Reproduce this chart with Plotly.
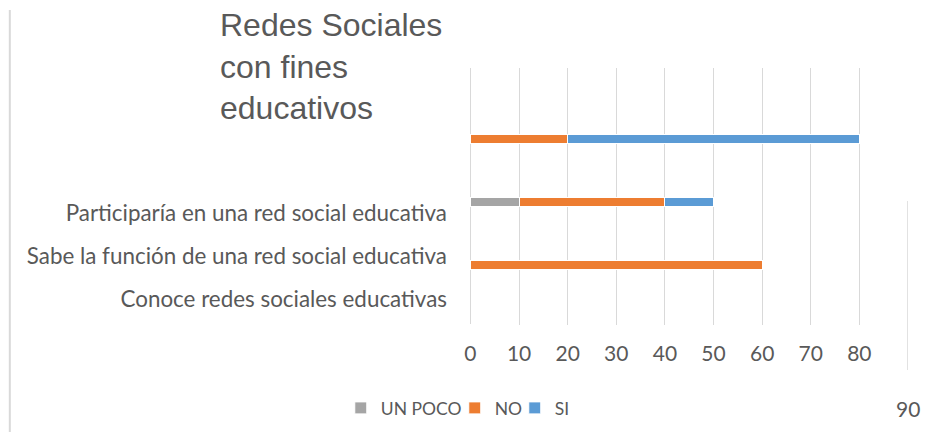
import plotly.graph_objects as go

# ---- data ----
categories = ["Conoce redes sociales educativas",
              "Sabe la función de una red social educativa",
              "Participaría en una red social educativa",
              ""]
label_categories = categories[:3]
series_names = ["UN POCO", "NO", "SI"]
un_poco = [0, 0, 10, 0]
no_vals = [0, 60, 30, 20]
si_vals = [0, 0, 10, 60]
x_ticks = [0, 10, 20, 30, 40, 50, 60, 70, 80]
extra_tick = 90
title_text = "Redes Sociales<br>con fines<br>educativos"

GRAY = "#a5a5a5"
ORANGE = "#ed7d31"
BLUE = "#5b9bd5"
TXT = "#595959"
GRID = "#d9d9d9"
FONT = "Lato, Carlito, Calibri, sans-serif"

positions = list(range(len(categories)))

OFF = 8  # body margin of the page
W, H = 938 - OFF, 441 - OFF
X0_PX, X10_PX = 470.7, 519.3        # pixel of value 0 and 10 in the reference
XMIN = -0.3
L = X0_PX + XMIN * (X10_PX - X0_PX) / 10 - OFF
R = 908.3 - OFF
T, B = 68 - OFF, 325 - OFF
pw, ph = R - L, B - T

def px(xp):
    return (xp - OFF - L) / pw

def py(yp):
    return (B - (yp - OFF)) / ph

legend_ids = ["legend", "legend2", "legend3"]
legend_text_x = [379, 493, 553]   # where each legend label starts

fig = go.Figure()
for name, vals, col, lg in zip(series_names, [un_poco, no_vals, si_vals],
                               [GRAY, ORANGE, BLUE], legend_ids):
    fig.add_trace(go.Bar(y=positions, x=vals, name=name, orientation="h",
                         customdata=categories, legend=lg,
                         marker=dict(color=col, line=dict(color="white", width=1)),
                         hovertemplate="%{customdata}: %{x}<extra>" + name + "</extra>"))

# invisible trace carrying the (offset) category labels
fig.add_trace(go.Scatter(y=list(range(len(label_categories))), x=[0] * len(label_categories),
                         xaxis="x2", yaxis="y2", mode="markers",
                         marker=dict(opacity=0), showlegend=False, hoverinfo="skip"))

legend_layout = {}
for lg, tx in zip(legend_ids, legend_text_x):
    legend_layout[lg] = dict(orientation="h", x=px(tx - 38), xanchor="left", y=py(408),
                             yanchor="middle", font=dict(size=17.5, color=TXT), itemwidth=30,
                             bgcolor="rgba(0,0,0,0)")

fig.update_layout(
    width=W, height=H,
    margin=dict(l=L, r=W - R, t=T, b=H - B, autoexpand=False),
    paper_bgcolor="white", plot_bgcolor="rgba(0,0,0,0)",
    barmode="stack", bargap=0.857,
    font=dict(family=FONT, color=TXT, size=19),
    xaxis=dict(range=[XMIN, 90], tickvals=x_ticks, showgrid=True, gridcolor=GRID, gridwidth=1,
               zeroline=False, showline=False, ticks="", tickfont=dict(size=21, color=TXT),
               ticklabelstandoff=14, fixedrange=True),
    yaxis=dict(range=[0.048, 4.127], tickvals=positions, ticktext=categories,
               showticklabels=False, showgrid=False, zeroline=False, showline=False, ticks="",
               fixedrange=True),
    xaxis2=dict(domain=[0, 1], range=[0, 1], visible=False, anchor="y2", fixedrange=True),
    yaxis2=dict(range=[-0.5, 2.5], tickvals=list(range(len(label_categories))),
                ticktext=label_categories,
                domain=[py(320.5), py(191.5)], anchor="free", position=0, side="left",
                showgrid=False, zeroline=False, showline=False, ticks="",
                tickfont=dict(size=22.4, color=TXT), ticklabelstandoff=22, fixedrange=True),
    showlegend=True,
    annotations=[
        dict(text=title_text, xref="paper", yref="paper", x=px(218), y=py(5),
             xanchor="left", yanchor="top", align="left", showarrow=False,
             font=dict(family="Liberation Sans, Arial, sans-serif", size=32, color=TXT)),
        dict(text=str(extra_tick), xref="x", yref="paper", x=extra_tick, y=py(408),
             xanchor="center", yanchor="middle", showarrow=False,
             font=dict(size=21, color=TXT)),
    ],
    shapes=[
        dict(type="line", xref="paper", yref="paper", x0=px(10), x1=px(10), y0=py(10), y1=py(432),
             line=dict(color=GRID, width=2)),
        dict(type="line", xref="x", yref="paper", x0=extra_tick, x1=extra_tick, y0=py(201), y1=py(370),
             line=dict(color=GRID, width=1.5)),
    ],
    **legend_layout,
)

fig.write_html("out.html")
